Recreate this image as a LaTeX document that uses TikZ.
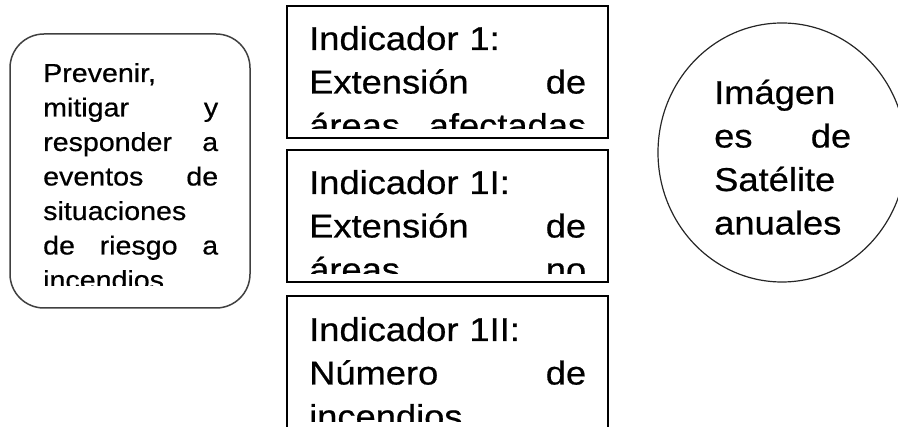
\documentclass[tikz,border=0pt]{standalone}
\usepackage{fontspec}
\setmainfont{Liberation Sans}[FakeStretch=1.1,FakeBold=0.6]
\usetikzlibrary{shapes.geometric}
\def\chico{\fontsize{26}{34.5}\selectfont}
\def\grande{\fontsize{33}{43.5}\selectfont}

\begin{document}
\begin{tikzpicture}[x=1pt,y=-1pt,
  indbox/.style={draw=black,line width=2pt,minimum width=321pt,minimum height=132pt,inner sep=0pt},
  txt/.style={anchor=base west,inner sep=0pt,align=left}]%<<<
\clip (0,0) rectangle (898,427);
% objetivo
\node[draw=black!75,line width=1.5pt,rounded corners=34pt,minimum width=240pt,minimum height=274pt] (obj) at (130,171) {};
\begin{scope}
  \clip (obj.north west) rectangle ([yshift=23pt]obj.south east);
  \node[txt,text width=175pt,font=\chico] (objtxt) at (43,82)
    {Prevenir,\\ mitigar\hfill y\\ responder\hfill a\\ eventos\hfill de\\ situaciones\\ de\hfill riesgo\hfill a\\ incendios};
\end{scope}
% indicadores
\node[indbox] (ind1) at (447.5,72) {};
\node[indbox] (ind2) at (447.5,216.5) {};
\node[indbox,minimum height=134pt] (ind3) at (447.5,363.5) {};
\begin{scope}
  \clip (ind1.north west) rectangle ([yshift=10pt]ind1.south east);
  \node[txt,text width=277pt,font=\grande] (ind1txt) at (309,50)
    {Indicador 1:\\ Extensión\hfill de\\ áreas\hfill afectadas};
\end{scope}
\begin{scope}
  \clip (ind2.north west) rectangle ([yshift=10pt]ind2.south east);
  \node[txt,text width=277pt,font=\grande] (ind2txt) at (309,194)
    {Indicador 1I:\\ Extensión\hfill de\\ áreas\hfill no};
\end{scope}
\begin{scope}
  \clip (ind3.north west) rectangle ([yshift=10pt]ind3.south east);
  \node[txt,text width=277pt,font=\grande] (ind3txt) at (309,341)
    {Indicador 1II:\\ Número\hfill de\\ incendios};
\end{scope}
% fuente
\node[ellipse,draw=black!85,line width=1.2pt,minimum width=248pt,minimum height=259pt,inner sep=0pt] (sat) at (782,152.5) {};
\node[txt,text width=137pt,font=\grande] (sattxt) at (714,104)
  {Imágen\\ es\hfill de\\ Satélite\\ anuales};
\end{tikzpicture}
\end{document}
